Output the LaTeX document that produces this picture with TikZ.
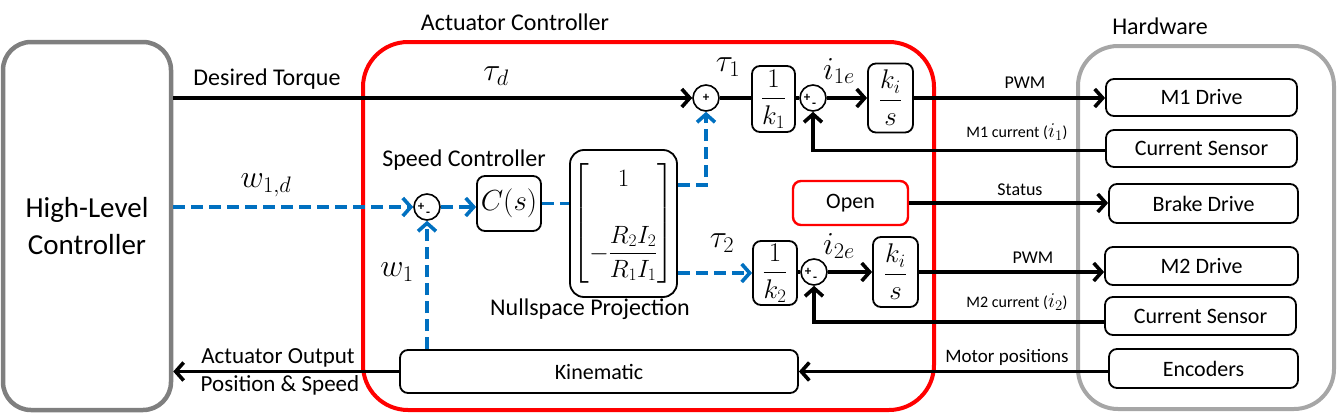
\RequirePackage{fix-cm}
\documentclass[tikz,border=0pt]{standalone}
\usepackage{amsmath}
\usepackage{fontspec}
\setmainfont{Carlito}
\usetikzlibrary{arrows.meta}
\newcommand\fsz[1]{\fontsize{#1}{#1}\selectfont}
\definecolor{hlcgray}{HTML}{7F7F7F}
\definecolor{hwgray}{HTML}{A6A6A6}
\definecolor{ablue}{HTML}{0070C0}
\definecolor{ared}{HTML}{FF0000}
\begin{document}
\begin{tikzpicture}[x=1pt,y=-1pt,
  blk/.style={draw, line width=1.8pt, rounded corners=8pt, inner sep=0pt, font=\fsz{22}},
  fracbox/.style={blk, font=\fsz{27}},
  sumnode/.style={draw, circle, line width=1.6pt, minimum size=26pt, inner sep=0pt},
  sgn/.style={font=\bfseries\fsz{13}, inner sep=0pt},
  sig/.style={line width=3.6pt, black},
  bsig/.style={line width=3.6pt, ablue, dash pattern=on 12pt off 6pt},
  tip/.style={-{Straight Barb[length=8pt,width=18pt]}},
  lbl/.style={inner sep=0pt, font=\fsz{24}},
  small/.style={inner sep=0pt, font=\fsz{18}},
  tiny/.style={inner sep=0pt, font=\fsz{16}},
  mlbl/.style={inner sep=0pt, font=\fsz{32}}
]
\useasboundingbox (0,0) rectangle (1338,415);
% containers
\node[draw=hlcgray, line width=4.5pt, rounded corners=28pt, minimum width=168pt, minimum height=368pt, align=center, font=\fontsize{29}{37}\selectfont] (hlc) at (87,226) {High-Level\\Controller};
\node[draw=ared, line width=4pt, rounded corners=45pt, minimum width=571pt, minimum height=368pt] (act) at (648.5,226) {};
\node[draw=hwgray, line width=4pt, rounded corners=40pt, minimum width=256pt, minimum height=363pt] (hw) at (1206,227.5) {};
\node[lbl] (acttitle) at (515,22) {Actuator Controller};
\node[lbl] (hwtitle) at (1160,26) {Hardware};
% hardware boxes
\node[blk, minimum width=191pt, minimum height=37pt] (m1) at (1201.5,97.5) {M1 Drive};
\node[blk, minimum width=191pt, minimum height=37pt] (cs1) at (1201.5,148.5) {Current Sensor};
\node[blk, minimum width=189pt, minimum height=39pt] (brake) at (1203.5,203.5) {Brake Drive};
\node[blk, minimum width=193pt, minimum height=38pt] (m2) at (1201.5,266) {M2 Drive};
\node[blk, minimum width=191pt, minimum height=38pt] (cs2) at (1200.5,316) {Current Sensor};
\node[blk, minimum width=189pt, minimum height=39pt] (enc) at (1203.5,368.5) {Encoders};
% controller blocks
\node[sumnode] (s1) at (706,98) {};
\node[sgn] (s1p) at (s1.center) {+};
\node[fracbox, minimum width=43pt, minimum height=66pt] (k1) at (773.5,99) {$\displaystyle\frac{1}{k_1}$};
\node[sumnode] (s2) at (813,98) {};
\node[sgn] (s2p) at ([xshift=-6pt]s2.center) {+};
\node[sgn] (s2m) at ([xshift=1pt,yshift=-7pt]s2.center) {-};
\node[fracbox, minimum width=45pt, minimum height=69pt] (ki1) at (890.5,98) {$\displaystyle\frac{k_i}{s}$};

\node[sumnode] (s3) at (427,207) {};
\node[sgn] (s3p) at ([xshift=-6pt]s3.center) {+};
\node[sgn] (s3m) at ([xshift=1pt,yshift=-7pt]s3.center) {-};
\node[blk, minimum width=64pt, minimum height=55pt, font=\fsz{29}] (cs) at (509,203.5) {$C(s)$};
\node[blk, rounded corners=14pt, minimum width=107pt, minimum height=147pt, font=\fsz{25}] (mat) at (623.5,223.5)
  {$\left[\begin{array}{@{}c@{}}\\[-22pt]1\\[32pt]-\dfrac{R_2I_2}{R_1I_1}\end{array}\right]$};

\node[fracbox, minimum width=44pt, minimum height=64pt] (k2) at (775,273) {$\displaystyle\frac{1}{k_2}$};
\node[sumnode] (s4) at (814,272) {};
\node[sgn] (s4p) at ([xshift=-6pt]s4.center) {+};
\node[sgn] (s4m) at ([xshift=1pt,yshift=-7pt]s4.center) {-};
\node[fracbox, minimum width=45pt, minimum height=70pt] (ki2) at (895.5,272) {$\displaystyle\frac{k_i}{s}$};

\node[blk, draw=ared, line width=2.4pt, minimum width=115pt, minimum height=44pt] (open) at (850.5,203) {Open};
\node[blk, minimum width=398pt, minimum height=43pt] (kin) at (599,371.5) {Kinematic};

% labels
\node[lbl] (ldt) at (267,79) {Desired Torque};
\node[mlbl] (ltd) at (496,76) {$\tau_d$};
\node[mlbl] (lw1d) at (266,185) {$w_{1,d}$};
\node[mlbl] (lw1) at (397,272) {$w_1$};
\node[lbl] (lsc) at (464,160) {Speed Controller};
\node[lbl] (lnp) at (590,309) {Nullspace Projection};
\node[mlbl] (lt1) at (728,67) {$\tau_1$};
\node[mlbl] (li1e) at (839,71) {$i_{1e}$};
\node[mlbl] (lt2) at (722,243) {$\tau_2$};
\node[mlbl] (li2e) at (839,246) {$i_{2e}$};
\node[small] (lpwm1) at (1025,83) {PWM};
\node[tiny] (lmc1) at (1017,132) {M1 current ({\fsz{21}$i_1$})};
\node[small] (lst) at (1020,190) {Status};
\node[small] (lpwm2) at (1033,258) {PWM};
\node[tiny] (lmc2) at (1017,302) {M2 current ({\fsz{21}$i_2$})};
\node[small, font=\fsz{19}] (lmp) at (1007,357) {Motor positions};
\node[inner sep=0pt, font=\fsz{23}] (lao) at (278,358) {Actuator Output};
\node[inner sep=0pt, font=\fsz{23}] (lps) at (280,385) {Position \& Speed};

% black connectors
\draw[sig, tip] (hlc.east |- s1) -- (s1.west);
\draw[sig] (s1.east) -- (k1.west |- s1);
\draw[sig] (k1.east |- s2) -- (s2.west);
\draw[sig, tip] (s2.east) -- (ki1.west |- s2);
\draw[sig, tip] (ki1.east) -- (ki1.east -| m1.west);
\draw[sig, tip] ([yshift=-2pt]cs1.west) -| (s2.south);
\draw[sig] (k2.east |- s4) -- (s4.west);
\draw[sig, tip] (s4.east) -- (ki2.west |- s4);
\draw[sig, tip] (ki2.east) -- (ki2.east -| m2.west);
\draw[sig, tip] ([yshift=-6pt]cs2.west) -| (s4.south);
\draw[sig, tip] (open.east) -- (open.east -| brake.west);
\draw[sig, tip] ([yshift=-3pt]enc.west) -- ([yshift=-3pt]enc.west -| kin.east);
\draw[sig, tip] (kin.west) -- (kin.west -| hlc.east);
% blue dashed connectors
\draw[bsig, tip] (hlc.east |- s3) -- (s3.west);
\draw[bsig, tip] (s3.east) -- (cs.west |- s3);
\draw[bsig] (cs.east) -- (cs.east -| mat.west);
\draw[bsig, tip] ([yshift=38.5pt]mat.east) -| (s1.south);
\draw[bsig, tip] ([yshift=-49.5pt]mat.east) -- (k2.west);
\draw[bsig, tip] (s3 |- kin.north) -- (s3.south);
\end{tikzpicture}
\end{document}
